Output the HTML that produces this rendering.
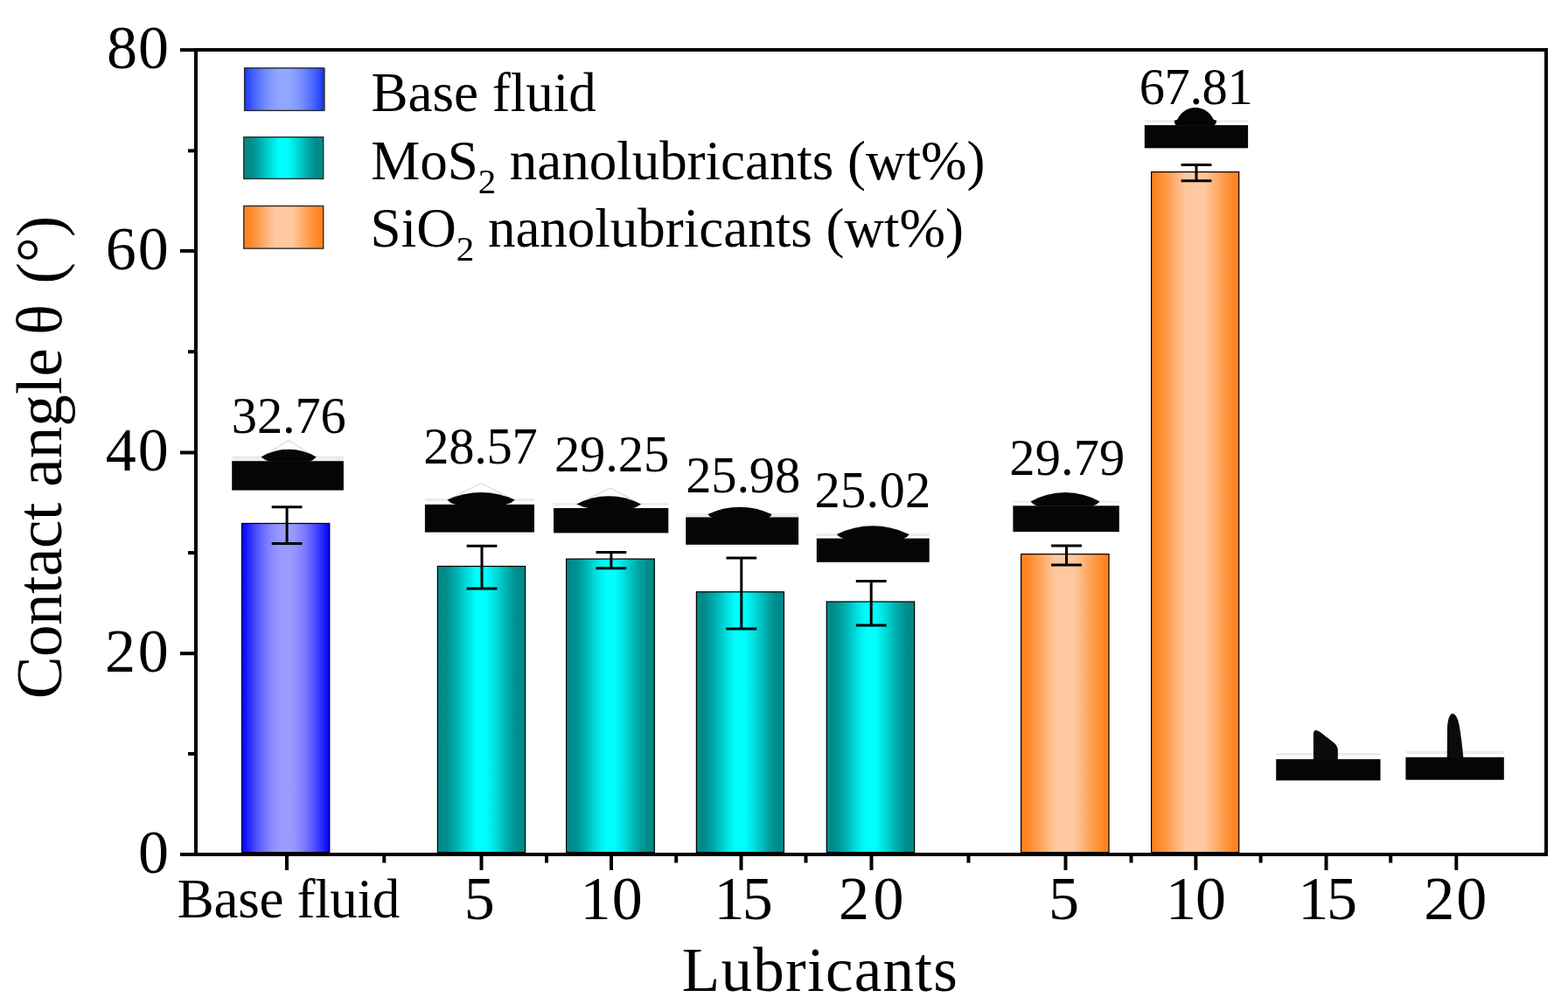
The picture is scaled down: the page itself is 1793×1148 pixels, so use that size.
<!DOCTYPE html>
<html lang="en"><head><meta charset="utf-8"><title>Contact angle of lubricants</title>
<style>
html,body{margin:0;padding:0;background:#fff;}
body{width:1793px;height:1148px;overflow:hidden;}
svg{display:block;}
text{font-family:"Liberation Serif", "DejaVu Serif", serif;fill:#000;}
.tk{font-size:70px;}
.ttl{font-size:73px;}
.lg{font-size:63px;}
.dl{font-size:58.5px;}
</style></head><body>
<svg width="1793" height="1148" viewBox="0 0 1793 1148">
<defs>
<linearGradient id="gb" x1="0" x2="1" y1="0" y2="0"><stop offset="0.0000" stop-color="#0000ff"/><stop offset="0.0417" stop-color="#1414ff"/><stop offset="0.0833" stop-color="#2828ff"/><stop offset="0.1250" stop-color="#3c3cff"/><stop offset="0.1667" stop-color="#4e4eff"/><stop offset="0.2083" stop-color="#5f5fff"/><stop offset="0.2500" stop-color="#6e6eff"/><stop offset="0.2917" stop-color="#7c7cff"/><stop offset="0.3333" stop-color="#8787ff"/><stop offset="0.3750" stop-color="#9090ff"/><stop offset="0.4167" stop-color="#9797ff"/><stop offset="0.4583" stop-color="#9b9bff"/><stop offset="0.5000" stop-color="#9c9cff"/><stop offset="0.5417" stop-color="#9b9bff"/><stop offset="0.5833" stop-color="#9797ff"/><stop offset="0.6250" stop-color="#9090ff"/><stop offset="0.6667" stop-color="#8787ff"/><stop offset="0.7083" stop-color="#7c7cff"/><stop offset="0.7500" stop-color="#6e6eff"/><stop offset="0.7917" stop-color="#5f5fff"/><stop offset="0.8333" stop-color="#4e4eff"/><stop offset="0.8750" stop-color="#3c3cff"/><stop offset="0.9167" stop-color="#2828ff"/><stop offset="0.9583" stop-color="#1414ff"/><stop offset="1.0000" stop-color="#0000ff"/></linearGradient>
<linearGradient id="gt" x1="0" x2="1" y1="0" y2="0"><stop offset="0.0000" stop-color="#008b8b"/><stop offset="0.0250" stop-color="#008b8b"/><stop offset="0.0500" stop-color="#008b8b"/><stop offset="0.0750" stop-color="#008b8b"/><stop offset="0.1000" stop-color="#008e8e"/><stop offset="0.1250" stop-color="#009595"/><stop offset="0.1500" stop-color="#009c9c"/><stop offset="0.1750" stop-color="#00a3a3"/><stop offset="0.2000" stop-color="#00acac"/><stop offset="0.2250" stop-color="#00b4b4"/><stop offset="0.2500" stop-color="#00bdbd"/><stop offset="0.2750" stop-color="#00c6c6"/><stop offset="0.3000" stop-color="#00d0d0"/><stop offset="0.3250" stop-color="#00d8d8"/><stop offset="0.3500" stop-color="#00e1e1"/><stop offset="0.3750" stop-color="#00e9e9"/><stop offset="0.4000" stop-color="#00f1f1"/><stop offset="0.4250" stop-color="#00f8f8"/><stop offset="0.4500" stop-color="#00fefe"/><stop offset="0.4750" stop-color="#00ffff"/><stop offset="0.5000" stop-color="#00ffff"/><stop offset="0.5250" stop-color="#00ffff"/><stop offset="0.5500" stop-color="#00fefe"/><stop offset="0.5750" stop-color="#00f8f8"/><stop offset="0.6000" stop-color="#00f1f1"/><stop offset="0.6250" stop-color="#00e9e9"/><stop offset="0.6500" stop-color="#00e1e1"/><stop offset="0.6750" stop-color="#00d8d8"/><stop offset="0.7000" stop-color="#00d0d0"/><stop offset="0.7250" stop-color="#00c6c6"/><stop offset="0.7500" stop-color="#00bdbd"/><stop offset="0.7750" stop-color="#00b4b4"/><stop offset="0.8000" stop-color="#00acac"/><stop offset="0.8250" stop-color="#00a3a3"/><stop offset="0.8500" stop-color="#009c9c"/><stop offset="0.8750" stop-color="#009595"/><stop offset="0.9000" stop-color="#008e8e"/><stop offset="0.9250" stop-color="#008b8b"/><stop offset="0.9500" stop-color="#008b8b"/><stop offset="0.9750" stop-color="#008b8b"/><stop offset="1.0000" stop-color="#008b8b"/></linearGradient>
<linearGradient id="go" x1="0" x2="1" y1="0" y2="0"><stop offset="0.0000" stop-color="#ff8420"/><stop offset="0.0250" stop-color="#ff8420"/><stop offset="0.0500" stop-color="#ff8420"/><stop offset="0.0750" stop-color="#ff8827"/><stop offset="0.1000" stop-color="#ff8c2f"/><stop offset="0.1250" stop-color="#ff9138"/><stop offset="0.1500" stop-color="#ff9641"/><stop offset="0.1750" stop-color="#ff9b4b"/><stop offset="0.2000" stop-color="#ffa055"/><stop offset="0.2250" stop-color="#ffa55f"/><stop offset="0.2500" stop-color="#ffab69"/><stop offset="0.2750" stop-color="#ffb073"/><stop offset="0.3000" stop-color="#ffb57d"/><stop offset="0.3250" stop-color="#ffba86"/><stop offset="0.3500" stop-color="#ffbf8f"/><stop offset="0.3750" stop-color="#ffc498"/><stop offset="0.4000" stop-color="#ffc8a0"/><stop offset="0.4250" stop-color="#ffc8a0"/><stop offset="0.4500" stop-color="#ffc8a0"/><stop offset="0.4750" stop-color="#ffc8a0"/><stop offset="0.5000" stop-color="#ffc8a0"/><stop offset="0.5250" stop-color="#ffc8a0"/><stop offset="0.5500" stop-color="#ffc8a0"/><stop offset="0.5750" stop-color="#ffc8a0"/><stop offset="0.6000" stop-color="#ffc8a0"/><stop offset="0.6250" stop-color="#ffc498"/><stop offset="0.6500" stop-color="#ffbf8f"/><stop offset="0.6750" stop-color="#ffba86"/><stop offset="0.7000" stop-color="#ffb57d"/><stop offset="0.7250" stop-color="#ffb073"/><stop offset="0.7500" stop-color="#ffab69"/><stop offset="0.7750" stop-color="#ffa55f"/><stop offset="0.8000" stop-color="#ffa055"/><stop offset="0.8250" stop-color="#ff9b4b"/><stop offset="0.8500" stop-color="#ff9641"/><stop offset="0.8750" stop-color="#ff9138"/><stop offset="0.9000" stop-color="#ff8c2f"/><stop offset="0.9250" stop-color="#ff8827"/><stop offset="0.9500" stop-color="#ff8420"/><stop offset="0.9750" stop-color="#ff8420"/><stop offset="1.0000" stop-color="#ff8420"/></linearGradient>
<linearGradient id="lb" x1="0" x2="1" y1="0" y2="0"><stop offset="0.0000" stop-color="#1a38ff"/><stop offset="0.0417" stop-color="#2a47ff"/><stop offset="0.0833" stop-color="#3955ff"/><stop offset="0.1250" stop-color="#4863ff"/><stop offset="0.1667" stop-color="#5670ff"/><stop offset="0.2083" stop-color="#637cff"/><stop offset="0.2500" stop-color="#6f87ff"/><stop offset="0.2917" stop-color="#7991ff"/><stop offset="0.3333" stop-color="#8299ff"/><stop offset="0.3750" stop-color="#899fff"/><stop offset="0.4167" stop-color="#8ea4ff"/><stop offset="0.4583" stop-color="#91a7ff"/><stop offset="0.5000" stop-color="#92a8ff"/><stop offset="0.5417" stop-color="#91a7ff"/><stop offset="0.5833" stop-color="#8ea4ff"/><stop offset="0.6250" stop-color="#899fff"/><stop offset="0.6667" stop-color="#8299ff"/><stop offset="0.7083" stop-color="#7991ff"/><stop offset="0.7500" stop-color="#6f87ff"/><stop offset="0.7917" stop-color="#637cff"/><stop offset="0.8333" stop-color="#5670ff"/><stop offset="0.8750" stop-color="#4863ff"/><stop offset="0.9167" stop-color="#3955ff"/><stop offset="0.9583" stop-color="#2a47ff"/><stop offset="1.0000" stop-color="#1a38ff"/></linearGradient>
</defs>
<rect x="0" y="0" width="1793" height="1148" fill="#fff"/>

<rect x="276.5" y="598.5" width="100.3" height="376.1" fill="url(#gb)" stroke="#000" stroke-width="1.25"/>
<rect x="500.4" y="647.5" width="100.2" height="327.1" fill="url(#gt)" stroke="#000" stroke-width="1.25"/>
<rect x="647.6" y="639.1" width="100.7" height="335.5" fill="url(#gt)" stroke="#000" stroke-width="1.25"/>
<rect x="796.4" y="676.8" width="100.0" height="297.8" fill="url(#gt)" stroke="#000" stroke-width="1.25"/>
<rect x="945.3" y="688.0" width="100.3" height="286.6" fill="url(#gt)" stroke="#000" stroke-width="1.25"/>
<rect x="1167.6" y="633.6" width="100.4" height="341.0" fill="url(#go)" stroke="#000" stroke-width="1.25"/>
<rect x="1316.6" y="196.6" width="100.1" height="778.0" fill="url(#go)" stroke="#000" stroke-width="1.25"/>
<path d="M310.7 579.7H345.5M310.7 621.6H345.5M328.1 579.7V621.6" stroke="#000" stroke-width="3" fill="none"/>
<path d="M533.6 624.2H568.4M533.6 672.9H568.4M551.0 624.2V672.9" stroke="#000" stroke-width="3" fill="none"/>
<path d="M681.5 631.4H716.3M681.5 649.8H716.3M698.9 631.4V649.8" stroke="#000" stroke-width="3" fill="none"/>
<path d="M830.4 638.1H865.2M830.4 718.9H865.2M847.8 638.1V718.9" stroke="#000" stroke-width="3" fill="none"/>
<path d="M978.8 664.5H1013.6M978.8 714.9H1013.6M996.2 664.5V714.9" stroke="#000" stroke-width="3" fill="none"/>
<path d="M1202.1 623.9H1236.9M1202.1 646.0H1236.9M1219.5 623.9V646.0" stroke="#000" stroke-width="3" fill="none"/>
<path d="M1350.6 188.5H1385.4M1350.6 206.8H1385.4M1368.0 188.5V206.8" stroke="#000" stroke-width="3" fill="none"/>
<rect x="224" y="57" width="1544" height="920" fill="none" stroke="#000" stroke-width="4"/>
<line x1="206" x2="224" y1="57.1" y2="57.1" stroke="#000" stroke-width="4"/>
<line x1="206" x2="224" y1="286.9" y2="286.9" stroke="#000" stroke-width="4"/>
<line x1="206" x2="224" y1="517.5" y2="517.5" stroke="#000" stroke-width="4"/>
<line x1="206" x2="224" y1="747.2" y2="747.2" stroke="#000" stroke-width="4"/>
<line x1="206" x2="224" y1="977" y2="977" stroke="#000" stroke-width="4"/>
<line x1="215" x2="224" y1="172.4" y2="172.4" stroke="#000" stroke-width="4"/>
<line x1="215" x2="224" y1="402.2" y2="402.2" stroke="#000" stroke-width="4"/>
<line x1="215" x2="224" y1="632.1" y2="632.1" stroke="#000" stroke-width="4"/>
<line x1="215" x2="224" y1="861.9" y2="861.9" stroke="#000" stroke-width="4"/>
<line x1="328" x2="328" y1="977" y2="994.9" stroke="#000" stroke-width="4"/>
<line x1="550.5" x2="550.5" y1="977" y2="994.9" stroke="#000" stroke-width="4"/>
<line x1="699" x2="699" y1="977" y2="994.9" stroke="#000" stroke-width="4"/>
<line x1="847.5" x2="847.5" y1="977" y2="994.9" stroke="#000" stroke-width="4"/>
<line x1="996.5" x2="996.5" y1="977" y2="994.9" stroke="#000" stroke-width="4"/>
<line x1="1218.5" x2="1218.5" y1="977" y2="994.9" stroke="#000" stroke-width="4"/>
<line x1="1367.4" x2="1367.4" y1="977" y2="994.9" stroke="#000" stroke-width="4"/>
<line x1="1516.5" x2="1516.5" y1="977" y2="994.9" stroke="#000" stroke-width="4"/>
<line x1="1665.3" x2="1665.3" y1="977" y2="994.9" stroke="#000" stroke-width="4"/>
<line x1="439.3" x2="439.3" y1="977" y2="986.6" stroke="#000" stroke-width="4"/>
<line x1="625" x2="625" y1="977" y2="986.6" stroke="#000" stroke-width="4"/>
<line x1="773.2" x2="773.2" y1="977" y2="986.6" stroke="#000" stroke-width="4"/>
<line x1="921.5" x2="921.5" y1="977" y2="986.6" stroke="#000" stroke-width="4"/>
<line x1="1107.5" x2="1107.5" y1="977" y2="986.6" stroke="#000" stroke-width="4"/>
<line x1="1293.5" x2="1293.5" y1="977" y2="986.6" stroke="#000" stroke-width="4"/>
<line x1="1441.6" x2="1441.6" y1="977" y2="986.6" stroke="#000" stroke-width="4"/>
<line x1="1590.2" x2="1590.2" y1="977" y2="986.6" stroke="#000" stroke-width="4"/>
<text x="122.05" y="77.5" font-size="70" letter-spacing="0.90">80</text>
<text x="120.80" y="307.5" font-size="70" letter-spacing="1.85">60</text>
<text x="120.85" y="537.5" font-size="70" letter-spacing="1.80">40</text>
<text x="119.90" y="767.5" font-size="70" letter-spacing="2.75">20</text>
<text x="157.95" y="997.5" font-size="70" letter-spacing="0.00">0</text>
<text x="202.85" y="1048.8" font-size="63" letter-spacing="-0.31">Base fluid</text>
<text x="530.70" y="1050.5" font-size="70" letter-spacing="0.00">5</text>
<text x="663.45" y="1050.5" font-size="70" letter-spacing="1.40">10</text>
<text x="816.55" y="1050.5" font-size="70" letter-spacing="-2.80">15</text>
<text x="959.10" y="1050.5" font-size="70" letter-spacing="4.45">20</text>
<text x="1199.00" y="1050.5" font-size="70" letter-spacing="0.00">5</text>
<text x="1333.05" y="1050.5" font-size="70" letter-spacing="-1.10">10</text>
<text x="1484.35" y="1050.5" font-size="70" letter-spacing="-2.30">15</text>
<text x="1628.20" y="1050.5" font-size="70" letter-spacing="1.95">20</text>
<text x="779.8" y="1132.5" font-size="71" letter-spacing="1.27">Lubricants</text>
<text class="ttl" transform="translate(70.3 799.3) rotate(-90)"><tspan letter-spacing="-0.43">Contact</tspan><tspan letter-spacing="0.15"> angle </tspan><tspan dx="-3.3">θ</tspan><tspan dx="5.25"> (°)</tspan></text>
<rect x="369.6" y="77.4" width="2.4" height="49.6" fill="#6e6e6e"/>
<rect x="279.6" y="77.8" width="90.3" height="48.6" fill="url(#lb)" stroke="#2a2a2a" stroke-width="1.4"/>
<rect x="278.8" y="156.8" width="90.9" height="47.6" fill="url(#gt)" stroke="#2a2a2a" stroke-width="1.4"/>
<rect x="278.8" y="235.5" width="90.9" height="48.6" fill="url(#go)" stroke="#2a2a2a" stroke-width="1.4"/>
<text class="lg" x="424.5" y="127.4">Base fluid</text>
<text class="lg" x="424.2" y="205.1" letter-spacing="-0.03">MoS<tspan font-size="41" dy="16">2</tspan><tspan dy="-16"> nanolubricants (wt%)</tspan></text>
<text class="lg" x="423.6" y="282.4">SiO<tspan font-size="41" dy="16">2</tspan><tspan dy="-16"> nanolubricants (wt%)</tspan></text>
<text x="264.85" y="494.5" font-size="58.5" letter-spacing="-0.15">32.76</text>
<text x="484.20" y="529.8" font-size="58.5" letter-spacing="-0.27">28.57</text>
<text x="633.90" y="539.4" font-size="58.5" letter-spacing="-0.09">29.25</text>
<text x="784.20" y="563.2" font-size="58.5" letter-spacing="-0.15">25.98</text>
<text x="931.40" y="579.6" font-size="58.5" letter-spacing="0.30">25.02</text>
<text x="1154.30" y="542.7" font-size="58.5" letter-spacing="0.11">29.79</text>
<text x="1302.70" y="118.7" font-size="58.5" letter-spacing="-0.40">67.81</text>
<g>
<rect x="265.2" y="521.4" width="127.7" height="5.8" fill="#ebecf0"/>
<path d="M302.5 520.6L329.9 503.4L357.7 520.6" fill="none" stroke="#d2d2d2" stroke-width="1"/>
<rect x="265.2" y="527.2" width="127.7" height="33.4" fill="#050505"/>
<path d="M298.5 522.6A61.1 61.1 0 0 1 361.7 522.6Q358.7 526.4 353.7 527.7L308.6 527.7Q302.6 526.4 298.5 522.6Z" fill="#050505"/>
</g>
<g>
<rect x="485.9" y="569.9" width="125.1" height="3.1" fill="#ebecf0"/>
<path d="M515.4 569.6L549.9 552.6L584.8 569.6" fill="none" stroke="#d2d2d2" stroke-width="1"/>
<rect x="485.9" y="576.8" width="125.1" height="31.8" fill="#050505"/>
<path d="M511.4 571.6A91.4 91.4 0 0 1 588.8 571.6Q584.0 576.0 577.1 577.3L521.9 577.3Q515.6 576.0 511.4 571.6Z" fill="#050505"/>
</g>
<g>
<rect x="633.0" y="575.1" width="131.3" height="2.7" fill="#ebecf0"/>
<path d="M663.3 574.6L698.2 558.0L729.0 574.6" fill="none" stroke="#d2d2d2" stroke-width="1"/>
<rect x="633.0" y="581.0" width="131.3" height="28.4" fill="#050505"/>
<path d="M659.3 576.6A76.9 76.9 0 0 1 733.0 576.6Q728.5 580.2 722.1 581.5L675.2 581.5Q666.2 580.2 659.3 576.6Z" fill="#050505"/>
</g>
<g>
<rect x="784.2" y="586.8" width="128.9" height="4.6" fill="#ebecf0"/>
<rect x="784.2" y="591.4" width="128.9" height="31.4" fill="#050505"/>
<path d="M809.3 588.0A84.8 84.8 0 0 1 882.5 588.0Q881.6 590.6 878.8 591.9L814.3 591.9Q810.8 590.6 809.3 588.0Z" fill="#050505"/>
</g>
<g>
<rect x="933.8" y="610.1" width="128.9" height="2.9" fill="#ebecf0"/>
<rect x="933.8" y="615.6" width="128.9" height="27.2" fill="#050505"/>
<path d="M956.8 611.0A93.2 93.2 0 0 1 1039.6 611.0Q1037.3 614.8 1033.0 616.1L965.2 616.1Q960.0 614.8 956.8 611.0Z" fill="#050505"/>
</g>
<g>
<rect x="1158.4" y="572.6" width="121.4" height="2.0" fill="#ebecf0"/>
<rect x="1158.4" y="578.3" width="121.4" height="29.8" fill="#050505"/>
<path d="M1178.5 573.5A79.7 79.7 0 0 1 1257.6 573.5Q1254.2 577.5 1248.8 578.8L1186.8 578.8Q1181.7 577.5 1178.5 573.5Z" fill="#050505"/>
</g>
<g>
<rect x="1308.8" y="137.2" width="118.3" height="3.1" fill="#ebecf0"/>
<rect x="1308.8" y="143.1" width="118.3" height="26.3" fill="#050505"/>
<path d="M1342.7 138.1L1346.4 136.5A22.4 22.4 0 0 1 1387.5 136.5L1391.2 138.1Q1390.6 142.3 1387.9 143.6L1345.2 143.6Q1343.0 142.3 1342.7 138.1Z" fill="#050505"/>
</g>
<g><rect x="1459.2" y="861" width="119.3" height="3" fill="#ebecf0"/><rect x="1459.2" y="868.1" width="119.3" height="24.3" fill="#050505"/>
<path d="M1501.9 869V840Q1501.9 834.6 1505 835Q1507.5 835.5 1509.5 837L1525.3 849.3Q1529.7 853 1529.8 858V869Z" fill="#0b0b0b"/></g>
<g><rect x="1607.4" y="858.6" width="112.4" height="3.2" fill="#ebecf0"/><rect x="1607.4" y="865.8" width="112.4" height="25.9" fill="#050505"/>
<path d="M1654.7 867L1655 830Q1656.5 816.5 1660.9 815.8Q1666.5 817 1668.8 830Q1671.5 846 1673.4 867Z" fill="#0b0b0b"/></g>
</svg></body></html>
